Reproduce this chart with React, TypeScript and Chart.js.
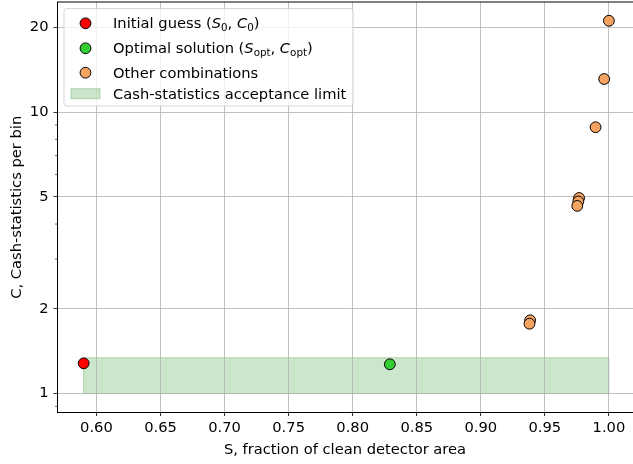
import React, { useEffect, useRef } from "react";
import { Chart, registerables } from "chart.js";

Chart.register(...registerables);

// ---- data ----
const initialS = [0.59];
const initialC = [1.28];
const optimalS = [0.829];
const optimalC = [1.27];
const otherS = [1.0, 0.9963, 0.9896, 0.9767, 0.9761, 0.9753, 0.9385, 0.938];
const otherC = [21.1, 13.1, 8.83, 4.95, 4.81, 4.64, 1.82, 1.77];
const limitS = [0.59, 1.0];
const limitC = [1.0, 1.34];

const xTicks = [0.6, 0.65, 0.7, 0.75, 0.8, 0.85, 0.9, 0.95, 1.0];
const yTicks = [1, 2, 5, 10, 20];
const yMinorTicks = [0.9, 3, 4, 6, 7, 8, 9];

const xLabel = "S, fraction of clean detector area";
const yLabel = "C, Cash-statistics per bin";

type Part = { t: string; it?: boolean; sub?: boolean };
const legendInitial: Part[] = [
  { t: "Initial guess (" },
  { t: "S", it: true },
  { t: "0", sub: true },
  { t: ", " },
  { t: "C", it: true },
  { t: "0", sub: true },
  { t: ")" },
];
const legendOptimal: Part[] = [
  { t: "Optimal solution (" },
  { t: "S", it: true },
  { t: "opt", sub: true },
  { t: ", " },
  { t: "C", it: true },
  { t: "opt", sub: true },
  { t: ")" },
];
const legendOther: Part[] = [{ t: "Other combinations" }];
const legendLimit: Part[] = [{ t: "Cash-statistics acceptance limit" }];

const RED = "#ff0000";
const GREEN = "#32cd32";
const ORANGE = "#f4a460";

const FONT = "'DejaVu Sans', 'Liberation Sans', sans-serif";
const FS = 14.7;

function drawRich(ctx: CanvasRenderingContext2D, x: number, y: number, parts: Part[]) {
  ctx.fillStyle = "#000";
  ctx.textAlign = "left";
  ctx.textBaseline = "alphabetic";
  for (const p of parts) {
    const size = p.sub ? FS * 0.7 : FS;
    ctx.font = `${p.it ? "italic " : ""}${size}px ${FONT}`;
    ctx.fillText(p.t, x, y + (p.sub ? 2.9 : 0));
    x += ctx.measureText(p.t).width;
  }
}

function roundRect(ctx: CanvasRenderingContext2D, x: number, y: number, w: number, h: number, r: number) {
  ctx.beginPath();
  ctx.moveTo(x + r, y);
  ctx.lineTo(x + w - r, y);
  ctx.quadraticCurveTo(x + w, y, x + w, y + r);
  ctx.lineTo(x + w, y + h - r);
  ctx.quadraticCurveTo(x + w, y + h, x + w - r, y + h);
  ctx.lineTo(x + r, y + h);
  ctx.quadraticCurveTo(x, y + h, x, y + h - r);
  ctx.lineTo(x, y + r);
  ctx.quadraticCurveTo(x, y, x + r, y);
  ctx.closePath();
}

const limitPlugin = {
  id: "limitRect",
  beforeDraw(chart: any) {
    const { ctx, scales } = chart;
    const x = scales.x, y = scales.y;
    const x0 = x.getPixelForValue(limitS[0]);
    const x1 = x.getPixelForValue(limitS[1]);
    const y0 = y.getPixelForValue(limitC[0]);
    const y1 = y.getPixelForValue(limitC[1]);
    ctx.save();
    ctx.fillStyle = "rgba(0,128,0,0.2)";
    ctx.fillRect(x0, y1, x1 - x0, y0 - y1);
    ctx.strokeStyle = "rgba(0,128,0,0.25)";
    ctx.lineWidth = 1;
    ctx.strokeRect(x0, y1, x1 - x0, y0 - y1);
    ctx.restore();
  },
};

const decorPlugin = {
  id: "decor",
  afterDraw(chart: any) {
    const { ctx, chartArea, scales } = chart;
    ctx.save();
    // top spine
    ctx.strokeStyle = "#000";
    ctx.lineWidth = 1;
    ctx.beginPath();
    ctx.moveTo(chartArea.left, chartArea.top);
    ctx.lineTo(chartArea.right, chartArea.top);
    ctx.stroke();
    // minor ticks on y
    ctx.lineWidth = 0.6;
    for (const v of yMinorTicks) {
      const py = scales.y.getPixelForValue(v);
      if (py < chartArea.top || py > chartArea.bottom) continue;
      ctx.beginPath();
      ctx.moveTo(chartArea.left - 2, py);
      ctx.lineTo(chartArea.left, py);
      ctx.stroke();
    }
    // legend
    const lx = 64, ly = 8.5, lw = 289, lh = 97.5;
    roundRect(ctx, lx, ly, lw, lh, 2.7);
    ctx.fillStyle = "rgba(255,255,255,0.8)";
    ctx.fill();
    ctx.strokeStyle = "rgba(204,204,204,0.8)";
    ctx.lineWidth = 1;
    ctx.stroke();

    const mx = 85.5;
    const rows = [23.3, 48.3, 72.7, 93.7];
    const bases = [28, 52.6, 77.5, 98.5];
    const colors = [RED, GREEN, ORANGE];
    for (let i = 0; i < 3; i++) {
      ctx.beginPath();
      ctx.arc(mx, rows[i], 5.4, 0, Math.PI * 2);
      ctx.fillStyle = colors[i];
      ctx.fill();
      ctx.strokeStyle = "#000";
      ctx.lineWidth = 1;
      ctx.stroke();
    }
    ctx.fillStyle = "rgba(0,128,0,0.2)";
    ctx.fillRect(71, rows[3] - 5, 29, 10);
    ctx.strokeStyle = "rgba(0,128,0,0.25)";
    ctx.strokeRect(71, rows[3] - 5, 29, 10);

    const tx = 113;
    drawRich(ctx, tx, bases[0], legendInitial);
    drawRich(ctx, tx, bases[1], legendOptimal);
    drawRich(ctx, tx, bases[2], legendOther);
    drawRich(ctx, tx, bases[3], legendLimit);
    ctx.restore();
  },
};

function pts(xs: number[], ys: number[]) {
  return xs.map((v, i) => ({ x: v, y: ys[i] }));
}

export default function App() {
  const ref = useRef<HTMLCanvasElement | null>(null);
  useEffect(() => {
    if (!ref.current) return;
    const font = { family: FONT, size: FS };
    const pointStyle = (color: string) => ({
      backgroundColor: color,
      borderColor: "#000",
      borderWidth: 1,
      pointRadius: 5.4,
      pointHoverRadius: 5.4,
    });
    const chart = new Chart(ref.current, {
      type: "scatter",
      data: {
        datasets: [
          { label: "Initial guess", data: pts(initialS, initialC), ...pointStyle(RED) },
          { label: "Optimal solution", data: pts(optimalS, optimalC), ...pointStyle(GREEN) },
          { label: "Other combinations", data: pts(otherS, otherC), ...pointStyle(ORANGE) },
        ],
      },
      options: {
        animation: false,
        responsive: false,
        devicePixelRatio: 1,
        layout: { autoPadding: false, padding: { top: 2, right: 0, left: 0, bottom: 0 } },
        plugins: { legend: { display: false }, tooltip: { enabled: false } },
        scales: {
          x: {
            type: "linear",
            min: 0.5692,
            max: 1.0188,
            afterBuildTicks: (s: any) => {
              s.ticks = xTicks.map((v) => ({ value: v }));
            },
            afterFit: (s: any) => {
              s.height = 51.5;
              s.paddingLeft = 0;
              s.paddingRight = 0;
            },
            ticks: {
              callback: (v: any) => Number(v).toFixed(2),
              font,
              color: "#000",
              padding: 3,
              maxRotation: 0,
              autoSkip: false,
            },
            grid: { color: "#b0b0b0", lineWidth: 0.8, tickColor: "#000", tickLength: 3.5, tickWidth: 0.8 },
            border: { display: true, color: "#000", width: 1 },
            title: { display: true, text: xLabel, font, color: "#000", padding: { top: 0, bottom: 5 } },
          },
          y: {
            type: "logarithmic",
            min: 0.856,
            max: 24.6,
            afterBuildTicks: (s: any) => {
              s.ticks = yTicks.map((v) => ({ value: v }));
            },
            afterFit: (s: any) => {
              s.width = 57;
              s.paddingTop = 0;
              s.paddingBottom = 0;
            },
            ticks: {
              callback: (v: any) => String(v),
              font,
              color: "#000",
              padding: 5,
              autoSkip: false,
            },
            grid: { color: "#b0b0b0", lineWidth: 0.8, tickColor: "#000", tickLength: 3.5, tickWidth: 0.8 },
            border: { display: true, color: "#000", width: 1 },
            title: { display: true, text: yLabel, font, color: "#000", padding: { top: 8, bottom: 0 } },
          },
        },
      },
      plugins: [limitPlugin, decorPlugin],
    } as any);
    return () => chart.destroy();
  }, []);
  return (
    <div style={{ position: "absolute", left: 0, top: 0, width: 633, height: 464, background: "#fff", overflow: "hidden" }}>
      <canvas ref={ref} width={633} height={464} style={{ display: "block" }} />
    </div>
  );
}
